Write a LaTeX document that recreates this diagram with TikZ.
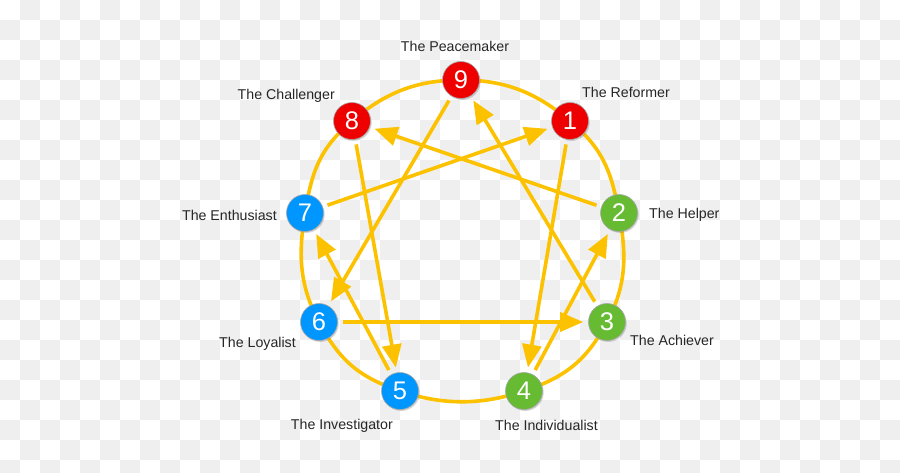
\documentclass[tikz,border=0pt]{standalone}
\usepackage{fontspec}
\setmainfont{Liberation Sans}
\usetikzlibrary{arrows.meta,shadows,backgrounds}
\definecolor{gold}{HTML}{FCC200}
\definecolor{ered}{HTML}{EE0000}
\definecolor{eblue}{HTML}{0096FF}
\definecolor{egreen}{HTML}{66BB33}
\definecolor{chk}{HTML}{EFEFEF}
\begin{document}
\begin{tikzpicture}[x=1pt,y=-1pt,
  enode/.style={circle,minimum size=37pt,inner sep=0pt,draw=black!35,line width=0.6pt,
    text=white,font=\fontsize{25.5}{25.5}\selectfont,
    drop shadow={shadow xshift=1.2pt,shadow yshift=-1.4pt,opacity=0.35}},
  rednode/.style={enode,fill=ered},
  bluenode/.style={enode,fill=eblue},
  greennode/.style={enode,fill=egreen},
  lbl/.style={inner sep=0pt,font=\fontsize{14.2}{16}\selectfont,text=black!85},
  ring/.style={draw=gold,line width=3.6pt},
  arr/.style={draw=gold,line width=3.6pt,-{Triangle[length=23pt,width=19pt]},
    shorten <=5pt,shorten >=5pt}]
\useasboundingbox (0,0) rectangle (900,472);
% node centres
\coordinate (c9) at (461,80);
\coordinate (c1) at (570,121);
\coordinate (c2) at (619,213);
\coordinate (c3) at (607,322);
\coordinate (c4) at (524,391);
\coordinate (c5) at (400,391);
\coordinate (c6) at (319,322);
\coordinate (c7) at (305,213);
\coordinate (c8) at (352,121);
% nodes
\node[rednode] (n9) at (c9) {9};
\node[rednode] (n1) at (c1) {1};
\node[greennode] (n2) at (c2) {2};
\node[greennode] (n3) at (c3) {3};
\node[greennode] (n4) at (c4) {4};
\node[bluenode] (n5) at (c5) {5};
\node[bluenode] (n6) at (c6) {6};
\node[bluenode] (n7) at (c7) {7};
\node[rednode] (n8) at (c8) {8};
% labels
\node[lbl,anchor=base] (l9) at (455,51) {The Peacemaker};
\node[lbl,anchor=base west] (l1) at (582,97) {The Reformer};
\node[lbl,anchor=base east] (l8) at (335,99) {The Challenger};
\node[lbl,anchor=base east] (l7) at (277,220) {The Enthusiast};
\node[lbl,anchor=base west] (l2) at (649,218) {The Helper};
\node[lbl,anchor=base west] (l3) at (630,345) {The Achiever};
\node[lbl,anchor=base west] (l4) at (495,430) {The Individualist};
\node[lbl,anchor=base east] (l5) at (393,429) {The Investigator};
\node[lbl,anchor=base east] (l6) at (296,347) {The Loyalist};
\begin{scope}[on background layer]
  \clip (0,0) rectangle (900,472);
  \fill[white] (0,0) rectangle (900,472);
  \foreach \i in {0,...,44}{\foreach \j in {0,...,23}{%
    \ifodd\numexpr\i+\j\relax \fill[chk] (\i*20,\j*20) rectangle ++(20,20);\fi}}
  \draw[ring] plot[smooth cycle,tension=0.75] coordinates {(c9) (c1) (c2) (c3) (c4) (c5) (c6) (c7) (c8)};
  \draw[arr] (n1) -- (n4);
  \draw[arr] (n4) -- (n2);
  \draw[arr] (n2) -- (n8);
  \draw[arr] (n8) -- (n5);
  \draw[arr] (n5) -- (n7);
  \draw[arr] (n7) -- (n1);
  \draw[arr] (n9) -- (n6);
  \draw[arr] (n6) -- (n3);
  \draw[arr] (n3) -- (n9);
\end{scope}
\end{tikzpicture}
\end{document}
